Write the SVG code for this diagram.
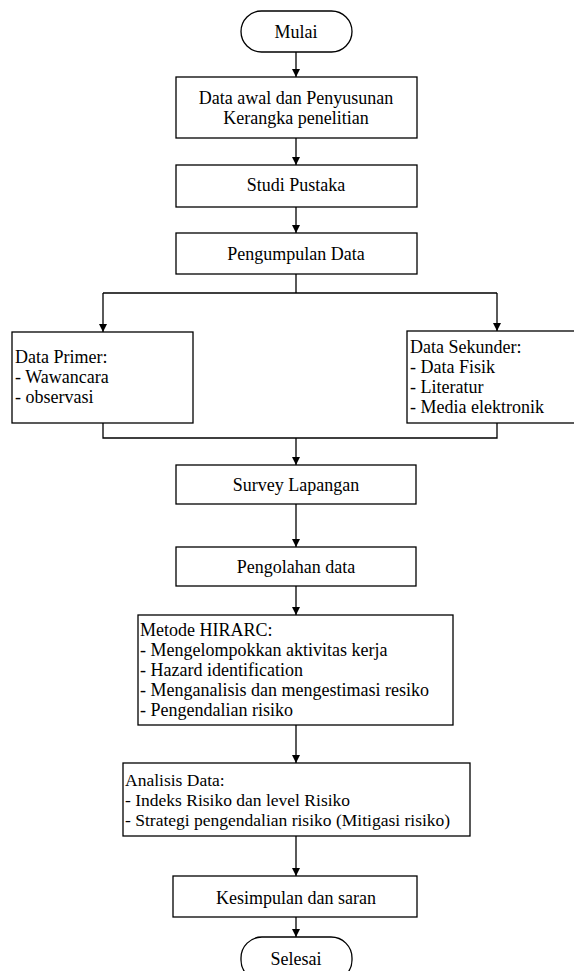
<svg xmlns="http://www.w3.org/2000/svg" width="574" height="971" viewBox="0 0 574 971">
<style>
.b{fill:#fff;stroke:#000;stroke-width:1.3}
.c{fill:none;stroke:#000;stroke-width:1.3}
text{font-family:"Liberation Serif","Times New Roman",serif;font-size:18px;fill:#000}
.m{text-anchor:middle}
.s{font-size:17.5px}
</style>
<defs>
<marker id="ah" viewBox="0 0 10 10" refX="10" refY="5" markerWidth="8" markerHeight="8" markerUnits="userSpaceOnUse" orient="auto">
<path d="M0,0 L10,5 L0,10 z" fill="#000"/>
</marker>
</defs>
<rect width="574" height="971" fill="#fff"/>
<g id="connectors">
<path class="c" d="M296,52 V77" marker-end="url(#ah)"/>
<path class="c" d="M296,138 V165" marker-end="url(#ah)"/>
<path class="c" d="M296,207 V233" marker-end="url(#ah)"/>
<path class="c" d="M296,274 V293 M103,293 H497"/>
<path class="c" d="M103,293 V332" marker-end="url(#ah)"/>
<path class="c" d="M497,293 V331" marker-end="url(#ah)"/>
<path class="c" d="M103,423 V438 H497 V423"/>
<path class="c" d="M296,438 V465" marker-end="url(#ah)"/>
<path class="c" d="M296,504 V547" marker-end="url(#ah)"/>
<path class="c" d="M296,586 V615" marker-end="url(#ah)"/>
<path class="c" d="M296,725 V763" marker-end="url(#ah)"/>
<path class="c" d="M296,836 V876" marker-end="url(#ah)"/>
<path class="c" d="M296,917 V937" marker-end="url(#ah)"/>
</g>
<g id="mulai">
<rect class="b" x="241" y="11" width="111" height="41" rx="20.5"/>
<text class="m" x="296" y="38">Mulai</text>
</g>
<g id="data-awal">
<rect class="b" x="176" y="77" width="241" height="61"/>
<text class="m" x="296" y="104">Data awal dan Penyusunan</text>
<text class="m" x="296" y="124">Kerangka penelitian</text>
</g>
<g id="studi-pustaka">
<rect class="b" x="176" y="165" width="241" height="42"/>
<text class="m" x="296" y="191">Studi Pustaka</text>
</g>
<g id="pengumpulan-data">
<rect class="b" x="176" y="233" width="241" height="41"/>
<text class="m" x="296" y="260">Pengumpulan Data</text>
</g>
<g id="data-primer">
<rect class="b" x="12" y="332" width="181" height="91"/>
<text x="15" y="363">Data Primer:</text>
<text x="15" y="383">- Wawancara</text>
<text x="15" y="403">- observasi</text>
</g>
<g id="data-sekunder">
<rect class="b" x="407" y="331" width="170" height="92"/>
<text x="410" y="353">Data Sekunder:</text>
<text x="410" y="373">- Data Fisik</text>
<text x="410" y="393">- Literatur</text>
<text x="410" y="413">- Media elektronik</text>
</g>
<g id="survey-lapangan">
<rect class="b" x="176" y="465" width="240" height="39"/>
<text class="m" x="296" y="491">Survey Lapangan</text>
</g>
<g id="pengolahan-data">
<rect class="b" x="176" y="547" width="240" height="39"/>
<text class="m" x="296" y="573">Pengolahan data</text>
</g>
<g id="metode-hirarc">
<rect class="b" x="138" y="615" width="315" height="110"/>
<text x="140" y="636">Metode HIRARC:</text>
<text x="140" y="656">- Mengelompokkan aktivitas kerja</text>
<text x="140" y="676">- Hazard identification</text>
<text x="140" y="696">- Menganalisis dan mengestimasi resiko</text>
<text x="140" y="716">- Pengendalian risiko</text>
</g>
<g id="analisis-data">
<rect class="b" x="123" y="763" width="347" height="73"/>
<text class="s" x="125" y="786">Analisis Data:</text>
<text class="s" x="125" y="806">- Indeks Risiko dan level Risiko</text>
<text class="s" x="125" y="826">- Strategi pengendalian risiko (Mitigasi risiko)</text>
</g>
<g id="kesimpulan">
<rect class="b" x="173" y="876" width="244" height="41"/>
<text class="m" x="296" y="904">Kesimpulan dan saran</text>
</g>
<g id="selesai">
<rect class="b" x="241" y="937" width="111" height="44" rx="21"/>
<text class="m" x="296" y="965">Selesai</text>
</g>
</svg>
